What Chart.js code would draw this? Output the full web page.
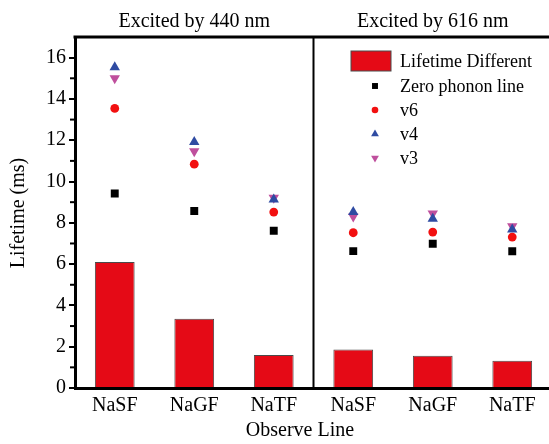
<!DOCTYPE html>
<html>
<head>
<meta charset="utf-8">
<script src="https://cdn.jsdelivr.net/npm/chart.js@4"></script>
<style>
  html, body { margin: 0; padding: 0; background: #fff; overflow: hidden; }
  #wrap { width: 549px; height: 444px; overflow: hidden; }
</style>
</head>
<body>
<div id="wrap"><canvas id="lifetimeChart" width="560" height="444"></canvas></div>
<script>
// observe lines, two excitation groups of three
const categories = ["NaSF", "NaGF", "NaTF", "NaSF", "NaGF", "NaTF"];
const groupTitles = ["Excited by 440 nm", "Excited by 616 nm"];

// lifetimes (ms)
const lifetimeDiff = [6.1, 3.35, 1.6, 1.86, 1.56, 1.32];
const zeroPhonon = [9.42, 8.57, 7.62, 6.63, 6.99, 6.62];
const v6 = [13.54, 10.84, 8.52, 7.52, 7.55, 7.31];
const v4 = [15.53, 11.92, 9.13, 8.52, 8.2, 7.68];
const v3 = [15.0, 11.47, 9.22, 8.31, 8.45, 7.84];

const yTicks = [0, 2, 4, 6, 8, 10, 12, 14, 16];
const yMinor = [1, 3, 5, 7, 9, 11, 13, 15];

const serif = "'Liberation Serif', 'DejaVu Serif', serif";

// frame, divider, group titles, axis titles, legend
const decorPlugin = {
  id: "decor",
  afterDraw(chart) {
    const ctx = chart.ctx;
    const area = chart.chartArea;
    const x = chart.scales.x;
    const y = chart.scales.y;
    ctx.save();

    // minor ticks
    ctx.strokeStyle = "#000";
    ctx.lineWidth = 2;
    yMinor.forEach(v => {
      const py = y.getPixelForValue(v);
      ctx.beginPath();
      ctx.moveTo(area.left - 5, py);
      ctx.lineTo(area.left, py);
      ctx.stroke();
    });

    // top frame
    ctx.lineWidth = 3;
    ctx.beginPath();
    ctx.moveTo(area.left - 1.5, area.top);
    ctx.lineTo(area.right + 5, area.top);
    ctx.stroke();

    // divider between the two groups
    const mid = (x.getPixelForValue(2) + x.getPixelForValue(3)) / 2;
    ctx.lineWidth = 2;
    ctx.beginPath();
    ctx.moveTo(mid, area.top);
    ctx.lineTo(mid, area.bottom);
    ctx.stroke();

    // group titles
    ctx.fillStyle = "#000";
    ctx.font = "20px " + serif;
    ctx.textAlign = "center";
    ctx.textBaseline = "alphabetic";
    ctx.fillText(groupTitles[0], (area.left + mid) / 2, 27);
    ctx.fillText(groupTitles[1], (mid + area.right) / 2, 27);

    // axis titles
    ctx.textBaseline = "middle";
    ctx.fillText("Observe Line", 300, 431);
    ctx.save();
    ctx.translate(19, 213);
    ctx.rotate(-Math.PI / 2);
    ctx.fillText("Lifetime (ms)", 0, 0);
    ctx.restore();

    // legend
    const lx = 351, ly = 61, step = 24;
    ctx.font = "18px " + serif;
    ctx.textAlign = "left";
    const bar = chart.data.datasets[0];
    ctx.fillStyle = bar.backgroundColor;
    ctx.fillRect(lx, ly - 10, 40, 20);
    ctx.strokeStyle = bar.borderColor;
    ctx.lineWidth = 1;
    ctx.strokeRect(lx, ly - 10, 40, 20);
    ctx.fillStyle = "#000";
    ctx.fillText(bar.label, 400, ly + 1);
    chart.data.datasets.slice(1).forEach((ds, i) => {
      const py = ly + 25 + i * step;
      ctx.fillStyle = ds.pointBackgroundColor;
      ctx.strokeStyle = ds.pointBackgroundColor;
      Chart.helpers.drawPoint(ctx, {
        pointStyle: ds.pointStyle,
        rotation: ds.pointRotation || 0,
        radius: ds.pointRadius * 0.75,
        borderWidth: 0
      }, 375, py);
      ctx.fillStyle = "#000";
      ctx.fillText(ds.label, 400, py + 1);
    });

    ctx.restore();
  }
};

function markers(label, data, color, style, radius, rotation) {
  return {
    type: "line",
    label: label,
    data: data,
    showLine: false,
    pointStyle: style,
    pointRadius: radius,
    pointHoverRadius: radius,
    pointRotation: rotation || 0,
    pointBackgroundColor: color,
    pointBorderColor: color,
    pointBorderWidth: 0,
    backgroundColor: color,
    borderColor: color
  };
}

new Chart(document.getElementById("lifetimeChart"), {
  type: "bar",
  data: {
    labels: categories,
    datasets: [
      {
        label: "Lifetime Different",
        data: lifetimeDiff,
        backgroundColor: "#e50a16",
        borderColor: "#4a4a4a",
        borderWidth: 1,
        barPercentage: 0.5,
        categoryPercentage: 1.0,
        order: 5
      },
      markers("Zero phonon line", zeroPhonon, "#000000", "rect", 5.6),
      markers("v6", v6, "#f21010", "circle", 4.4),
      markers("v4", v4, "#2f4ba2", "triangle", 6),
      markers("v3", v3, "#bf4f9d", "triangle", 6, 180)
    ]
  },
  options: {
    responsive: false,
    animation: false,
    devicePixelRatio: 1,
    layout: { padding: { top: 37, right: 8, left: 0, bottom: 0 } },
    plugins: {
      legend: { display: false },
      tooltip: { enabled: false },
      title: { display: false }
    },
    scales: {
      x: {
        offset: true,
        grid: { display: false, drawTicks: false },
        border: { display: true, color: "#000", width: 3 },
        ticks: {
          color: "#000",
          font: { family: serif, size: 20 },
          padding: 6,
          maxRotation: 0,
          autoSkip: false
        },
        afterFit(scale) { scale.height = 56; }
      },
      y: {
        min: 0,
        max: 17,
        afterBuildTicks(scale) {
          scale.ticks = yTicks.map(v => ({ value: v }));
        },
        grid: {
          drawOnChartArea: false,
          drawTicks: true,
          tickLength: 6,
          color: "#000",
          lineWidth: 2
        },
        border: { display: true, color: "#000", width: 3 },
        ticks: {
          color: "#000",
          font: { family: serif, size: 20 },
          padding: 3
        },
        afterFit(scale) { scale.width = 75; }
      }
    }
  },
  plugins: [decorPlugin]
});
</script>
</body>
</html>
